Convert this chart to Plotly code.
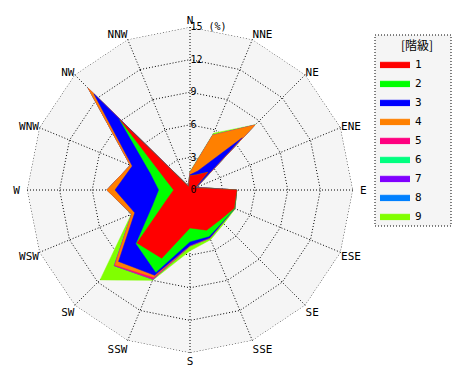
import numpy as np
import plotly.graph_objects as go

directions = ["N", "NNE", "NE", "ENE", "E", "ESE", "SE", "SSE",
              "S", "SSW", "SW", "WSW", "W", "WNW", "NW", "NNW"]
direction_labels = ["N", "NNE", "NE", "ENE", "\u00a0E", "ESE", "SE", "SSE",
                    "S", "SSW", "SW", "WSW", "W\u00a0", "WNW", "NW", "NNW"]
class_names = ["1", "2", "3", "4", "5", "6", "7", "8", "9"]
class_colors = ["#ff0000", "#00ff00", "#0000ff", "#ff8000", "#ff0080",
                "#00ff80", "#8000ff", "#0080ff", "#80ff00"]

# frequency (%) of each class by direction
class1 = [1.3, 1.5, 2.3, 0.5, 4.3, 4.4, 3.9, 4.0, 3.5, 6.8, 6.9, 2.3, 1.5, 2.4, 9.1, 0.3]
class2 = [0.0, 0.0, 0.0, 0.0, 0.0, 0.05, 0.3, 0.6, 1.25, 1.4, 0.1, 1.4, 1.35, 1.5, 0.05, 0.0]
class3 = [0.1, 0.4, 4.5, 0.1, 0.0, 0.0, 0.05, 0.15, 0.35, 0.3, 2.3, 1.8, 4.05, 1.85, 3.35, 0.05]
class4 = [0.2, 3.55, 1.65, 0.05, 0.0, 0.0, 0.0, 0.0, 0.0, 0.2, 0.45, 0.3, 0.75, 0.2, 0.75, 0.05]
class5 = [0.0, 0.0, 0.0, 0.0, 0.0, 0.0, 0.0, 0.05, 0.05, 0.2, 0.1, 0.0, 0.0, 0.0, 0.0, 0.0]
class6 = [0.0] * 16
class7 = [0.0] * 16
class8 = [0.0] * 16
class9 = [0.1, 0.2, 0.05, 0.05, 0.0, 0.05, 0.15, 0.15, 0.45, 0.1, 1.85, 0.05, 0.0, 0.0, 0.0, 0.0]

radial_max = 15
radial_ticks = [0, 3, 6, 9, 12, 15]
radial_ticktext = ["0", "3", "6", "9", "12", "15 (%)"]

series = [class1, class2, class3, class4, class5, class6, class7, class8, class9]
cumulative = np.cumsum(np.array(series), axis=0)
theta_closed = directions + [directions[0]]

fig = go.Figure()
for i in reversed(range(len(series))):
    r = list(cumulative[i]) + [cumulative[i][0]]
    fig.add_trace(go.Scatterpolar(
        r=r, theta=theta_closed, mode="lines", fill="toself",
        fillcolor=class_colors[i], line=dict(color=class_colors[i], width=0.5),
        name=class_names[i], hoverinfo="skip",
    ))

# dotted outer ring of the grid
fig.add_trace(go.Scatterpolar(
    r=[radial_max] * len(theta_closed), theta=theta_closed, mode="lines",
    line=dict(color="black", width=1, dash="1px,2px"),
    showlegend=False, hoverinfo="skip",
))

W, H = 470, 380
OFF = 8  # page body margin


def px(x):
    return (x - OFF) / W


def py(y):
    return 1 - (y - OFF) / H


mono = "DejaVu Sans Mono"
fig.update_layout(
    width=W, height=H,
    margin=dict(l=0, r=0, t=0, b=0, autoexpand=False),
    paper_bgcolor="white",
    font=dict(family=mono, size=11, color="black"),
    polar=dict(
        domain=dict(x=[px(27), px(353)], y=[py(353), py(27)]),
        gridshape="linear",
        bgcolor="#f5f5f5",
        radialaxis=dict(
            range=[0, radial_max], tickvals=radial_ticks, ticktext=radial_ticktext,
            angle=90, tickangle=90, showline=False, ticks="", showgrid=True,
            gridcolor="black", griddash="1px,2px", gridwidth=1,
            layer="above traces", tickfont=dict(family=mono, size=10),
        ),
        angularaxis=dict(
            rotation=90, direction="clockwise", categoryarray=directions,
            tickvals=directions, ticktext=direction_labels,
            showline=False, ticks="", showgrid=True,
            gridcolor="black", griddash="1px,2px", gridwidth=1,
            layer="above traces", tickfont=dict(family=mono, size=11),
        ),
    ),
    legend=dict(
        x=px(375), y=py(34), xanchor="left", yanchor="top",
        bgcolor="rgba(0,0,0,0)", traceorder="reversed",
        title=dict(text="\u3000\u3000[階級]", side="top",
                   font=dict(family="Noto Sans CJK JP", size=12)),
        font=dict(family=mono, size=11), itemwidth=30,
    ),
    shapes=[dict(type="rect", xref="paper", yref="paper",
                 x0=px(375), x1=px(451), y0=py(226), y1=py(35),
                 line=dict(color="black", width=1, dash="1px,2px"),
                 fillcolor="#f5f5f5", layer="below")],
)

fig.write_html("out.html")
